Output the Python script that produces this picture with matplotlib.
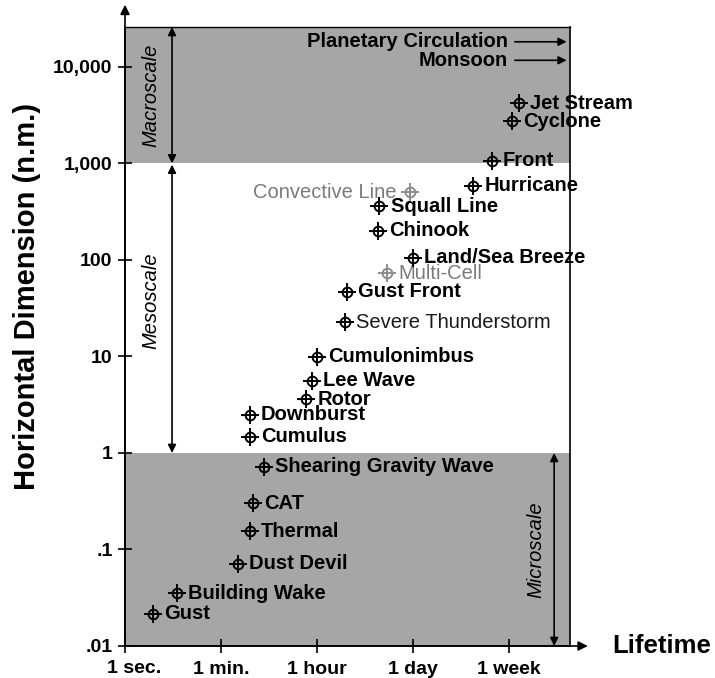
import matplotlib
matplotlib.use("Agg")
import matplotlib.pyplot as plt

plt.rcParams['font.family'] = ['Liberation Sans', 'DejaVu Sans']

# lifetime axis is drawn as evenly spaced steps: 0 = 1 sec, 1 = 1 min, 2 = 1 hour, 3 = 1 day, 4 = 1 week
time_ticks = [0, 1, 2, 3, 4]
time_labels = ["1 sec.", "1 min.", "1 hour", "1 day", "1 week"]

size_ticks = [0.01, 0.1, 1, 10, 100, 1000, 10000]
size_labels = [".01", ".1", "1", "10", "100", "1,000", "10,000"]

names = ["Gust", "Building Wake", "Dust Devil", "Thermal", "CAT",
         "Shearing Gravity Wave", "Cumulus", "Downburst", "Rotor", "Lee Wave",
         "Cumulonimbus", "Severe Thunderstorm", "Gust Front", "Multi-Cell",
         "Land/Sea Breeze", "Chinook", "Squall Line", "Convective Line",
         "Hurricane", "Front", "Cyclone", "Jet Stream"]
lifetime = [0.29, 0.54, 1.18, 1.30, 1.33,
            1.45, 1.30, 1.30, 1.89, 1.95,
            2.00, 2.29, 2.31, 2.73,
            3.00, 2.64, 2.65, 2.97,
            3.625, 3.82, 4.03, 4.10]
dimension = [0.0215, 0.035, 0.071, 0.155, 0.30,
             0.72, 1.47, 2.5, 3.6, 5.6,
             9.9, 22.7, 47, 73,
             105, 200, 360, 505,
             590, 1070, 2750, 4200]
# 'b' bold black, 'n' plain dark, 'g' light grey
kind = ["b", "b", "b", "b", "b",
        "b", "b", "b", "b", "b",
        "b", "n", "b", "g",
        "b", "b", "b", "g",
        "b", "b", "b", "b"]

# scale bands (n.m.)
macro_band = (1000, 25900)
meso_band = (1, 1000)
micro_band = (0.01, 1)

# phenomena running off the right edge
offscale = ["Planetary Circulation", "Monsoon"]
offscale_size = [18200, 11700]

band_gray = "#a6a6a6"
label_size = 14.5

fig = plt.figure(figsize=(7.15, 6.78), dpi=100)
ax = fig.add_axes([125 / 715, 32 / 678, 445 / 715, 619 / 678])
ax.set_yscale("log")
ax.set_xlim(0, 4.635)
ax.set_ylim(micro_band[0], macro_band[1])

ax.axhspan(*macro_band, color=band_gray, lw=0, zorder=0)
ax.axhspan(*micro_band, color=band_gray, lw=0, zorder=0)

for s in ["left", "bottom", "right", "top"]:
    ax.spines[s].set_linewidth(1.2)
ax.spines["top"].set_linewidth(1.0)

ax.set_xticks(time_ticks)
ax.set_xticklabels([""] + time_labels[1:], fontsize=14, fontweight="bold")
# first label sits a little right of the corner
ax.annotate(time_labels[0], (0.1, 0), xycoords=("data", "axes fraction"),
            xytext=(0, -10), textcoords="offset points", ha="center", va="top",
            fontsize=14, fontweight="bold")
ax.set_yticks(size_ticks)
ax.set_yticklabels(size_labels, fontsize=14, fontweight="bold")
ax.minorticks_off()
ax.tick_params(axis="both", direction="inout", length=10, width=1.2)
ax.tick_params(axis="x", pad=6)
ax.tick_params(axis="y", pad=4)

# axis arrows
ax.annotate("", xy=(1.04, 0), xytext=(0, 0), xycoords="axes fraction",
            arrowprops=dict(arrowstyle="-|>", color="black", lw=1.2,
                            mutation_scale=14, shrinkA=0, shrinkB=0),
            annotation_clip=False)
ax.annotate("", xy=(0, 1.036), xytext=(0, 0), xycoords="axes fraction",
            arrowprops=dict(arrowstyle="-|>", color="black", lw=1.2,
                            mutation_scale=14, shrinkA=0, shrinkB=0),
            annotation_clip=False)

# scale range arrows
dbl = dict(arrowstyle="<|-|>", color="black", lw=1.2, mutation_scale=12,
           shrinkA=0, shrinkB=0)
ax.annotate("", xy=(0.49, macro_band[0]), xytext=(0.49, macro_band[1]), arrowprops=dbl)
ax.annotate("", xy=(0.49, meso_band[0]), xytext=(0.49, meso_band[1] * 0.97), arrowprops=dbl)
ax.annotate("", xy=(4.47, micro_band[0]), xytext=(4.47, micro_band[1]), arrowprops=dbl)

ax.text(0.265, 5100, "Macroscale", rotation=90, style="italic", fontsize=14.5,
        ha="center", va="center")
ax.text(0.265, 38, "Mesoscale", rotation=90, style="italic", fontsize=14.5,
        ha="center", va="center")
ax.text(4.28, 0.1, "Microscale", rotation=90, style="italic", fontsize=14.5,
        ha="center", va="center")

for label, yv in zip(offscale, offscale_size):
    ax.text(3.99, yv, label, fontsize=14.5, fontweight="bold", ha="right", va="center")
    ax.annotate("", xy=(4.6, yv), xytext=(4.06, yv),
                arrowprops=dict(arrowstyle="-|>", color="black", lw=1.2,
                                mutation_scale=12, shrinkA=0, shrinkB=0))

# phenomena
for name, xv, yv, k in zip(names, lifetime, dimension, kind):
    col = "#8c8c8c" if k == "g" else "black"
    ax.plot(xv, yv, marker="o", ms=7, mfc="none", mec=col, mew=1.4, zorder=3)
    ax.plot(xv, yv, marker="+", ms=12.5, mec=col, mew=1.4, zorder=3)
    weight = "bold" if k == "b" else "normal"
    tcol = "#7a7a7a" if k == "g" else ("#1a1a1a" if k == "n" else "black")
    if name == "Convective Line":
        ax.annotate(name, (xv, yv), xytext=(-10, 0), textcoords="offset points",
                    ha="right", va="center", fontsize=label_size, fontweight=weight, color=tcol)
    else:
        ax.annotate(name, (xv, yv), xytext=(8, 0), textcoords="offset points",
                    ha="left", va="center", fontsize=label_size, fontweight=weight, color=tcol)

ax.text(1.094, 0, "Lifetime", transform=ax.transAxes, fontsize=18.5,
        fontweight="bold", ha="left", va="center")
fig.text(27 / 715, 1 - 296 / 678, "Horizontal Dimension (n.m.)", rotation=90,
         fontsize=21, fontweight="bold", ha="center", va="center")

fig.savefig("out.png", dpi=100)
